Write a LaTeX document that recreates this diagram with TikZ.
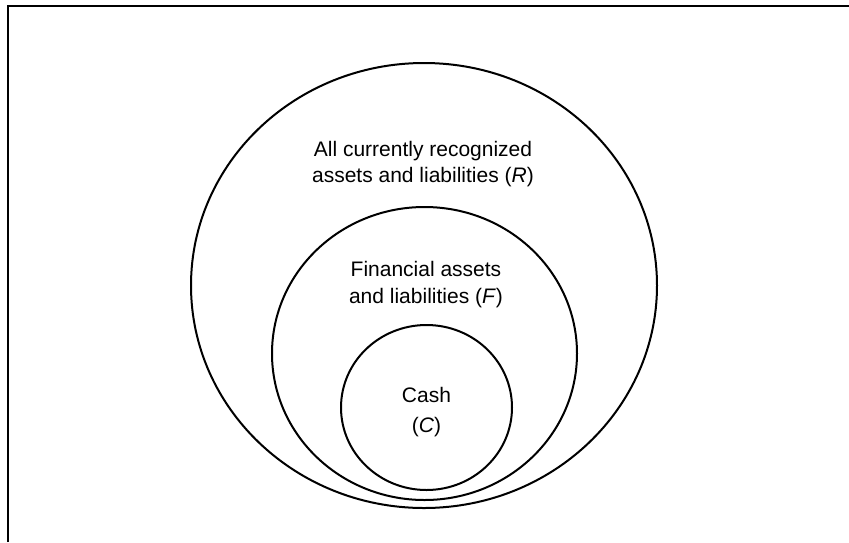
\documentclass[tikz,border=0pt]{standalone}
\usepackage{fontspec}
\setmainfont{Liberation Sans}
\usetikzlibrary{positioning}
\tikzset{
	every node/.style={font=\fontsize{21}{26.5}\selectfont, align=center},
	set line/.style={line width=2pt}
}

\begin{document}
\begin{tikzpicture}[x=1pt, y=-1pt,
	labelnode/.style={inner sep=0pt}]
	\useasboundingbox (0,0) rectangle (849,542);

	% Frame
	\draw[line width=2pt] (8,542) -- (8,6) -- (849,6);

	% Nested sets
	\draw[set line] (424,285.5) ellipse [x radius=233, y radius=222.5];
	\draw[set line] (424.5,353.5) ellipse [x radius=152.5, y radius=146.5];
	\draw[set line] (426.5,407.5) ellipse [x radius=85.5, y radius=82.5];

	% Labels
	\node[labelnode] (1) at (423,164) {All currently recognized\\assets and liabilities (\textit{R})};
	\node[labelnode] (2) at (426,284.5) {Financial assets\\and liabilities (\textit{F})};
	\node[labelnode] (3) at (426.5,412) {Cash\\[3pt](\textit{C})};
\end{tikzpicture}
\end{document}
